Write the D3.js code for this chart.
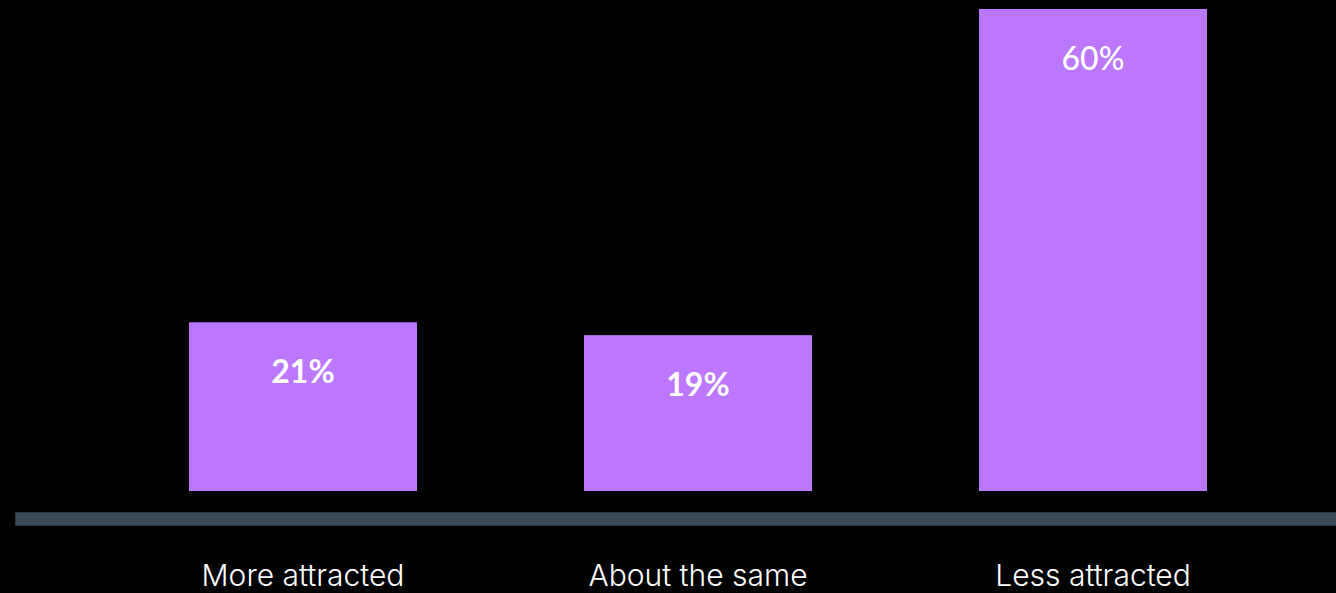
<!DOCTYPE html>
<html>
<head>
<meta charset="utf-8">
<script src="https://cdn.jsdelivr.net/npm/d3@7"></script>
<style>
  html, body { margin: 0; padding: 0; background: #000; }
  svg { display: block; }
</style>
</head>
<body>
<svg id="chart" width="1336" height="593"></svg>
<script>
const categories = ["More attracted", "About the same", "Less attracted"];
const values = [21, 19.4, 60];
const valueLabels = ["21%", "19%", "60%"];

const W = 1336, H = 593;
const svg = d3.select("#chart");
svg.append("rect").attr("width", W).attr("height", H).attr("fill", "#000");

const x = d3.scaleBand()
  .domain(categories)
  .range([105.5, 1290.5])
  .paddingInner(0.4228)
  .paddingOuter(0.2114);

const y = d3.scaleLinear().domain([0, 60]).range([491, 9]);

const data = categories.map((c, i) => ({ c, v: values[i], label: valueLabels[i] }));

svg.selectAll("rect.bar").data(data).enter().append("rect")
  .attr("class", "bar")
  .attr("x", d => x(d.c))
  .attr("y", d => y(d.v))
  .attr("width", x.bandwidth())
  .attr("height", d => y(0) - y(d.v))
  .attr("fill", "#bb77ff");

svg.selectAll("text.val").data(data).enter().append("text")
  .attr("class", "val")
  .attr("x", d => x(d.c) + x.bandwidth() / 2)
  .attr("y", d => y(d.v) + 61)
  .attr("text-anchor", "middle")
  .attr("fill", "#fff")
  .attr("font-family", "Lato, sans-serif")
  .attr("font-weight", (d, i) => i === 2 ? 500 : 700)
  .attr("font-size", 32)
  .text(d => d.label);

// axis band
svg.append("rect")
  .attr("x", 15.5).attr("y", 512.5)
  .attr("width", W - 15).attr("height", 13)
  .attr("fill", "#3b4a58")
  .attr("stroke", "#2a3540")
  .attr("stroke-width", 1);

const xAxis = d3.axisBottom(x).tickSize(0).tickPadding(0);
const gx = svg.append("g").attr("transform", "translate(0,586)").call(xAxis);
gx.select(".domain").remove();
gx.selectAll("text")
  .attr("dy", 0)
  .attr("fill", "#fff")
  .attr("font-family", "Inter, sans-serif")
  .attr("font-weight", 300)
  .attr("font-size", 30);
</script>
</body>
</html>
